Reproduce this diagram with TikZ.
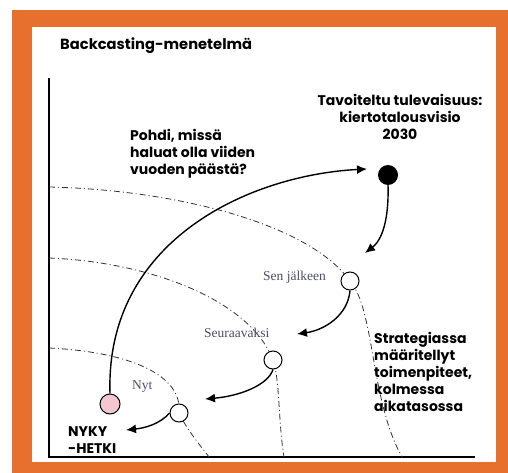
\documentclass[tikz,border=0pt]{standalone}
\usepackage{fontspec}
\setmainfont{Liberation Serif}
\newfontfamily\lblfont{Poppins}
\usetikzlibrary{arrows.meta}
\definecolor{frameorange}{HTML}{E8702F}
\definecolor{labelgray}{HTML}{4E4E64}
\definecolor{pinkfill}{HTML}{F4C7D0}
\begin{document}
\begin{tikzpicture}[x=1pt,y=-1pt,
  boldlbl/.style={font=\lblfont\bfseries\fontsize{14}{17}\selectfont, inner sep=0pt},
  serlbl/.style={font=\fontsize{13.5}{15}\selectfont, text=labelgray, inner sep=0pt},
  stage/.style={circle, draw=black, line width=1pt, fill=white, minimum size=18pt, inner sep=0pt},
  guide/.style={draw=black!80, line width=0.8pt, dash pattern=on 6pt off 3pt on 1pt off 3pt},
  flow/.style={draw=black, line width=1.4pt, -{Latex[length=10pt,width=9pt]}},
  axis/.style={draw=black, line width=1.5pt}
]
\useasboundingbox (0,0) rectangle (508,473);
\fill[frameorange] (12,10) rectangle (508,473);
\fill[white] (32,27) rectangle (496,462);

\node[boldlbl, font=\lblfont\bfseries\fontsize{14.7}{17}\selectfont, anchor=base west] (title) at (60,50) {Backcasting-menetelmä};

% axes
\coordinate (ytop) at (49,78);
\coordinate (origin) at (49,457);
\coordinate (xend) at (475,457);
\draw[axis] (ytop) -- (origin) -- (xend);

% guide curve ends
\coordinate (g1s) at (49,187);
\coordinate (g1e) at (402,457);
\coordinate (g2s) at (49,258);
\coordinate (g2e) at (284,457);
\coordinate (g3s) at (49,348);
\coordinate (g3e) at (209,457);

% stage positions
\coordinate (senc) at (350,281);
\coordinate (seuc) at (273,360);
\coordinate (nytc) at (179,413);

% guide curves
\draw[guide] (g1s) .. controls (180,190) and (310,225) .. (senc) .. controls (375,310) and (370,400) .. (g1e);
\draw[guide] (g2s) .. controls (150,262) and (250,300) .. (seuc) .. controls (280,380) and (278,420) .. (g2e);
\draw[guide] (g3s) .. controls (130,352) and (183,375) .. (nytc) .. controls (187,430) and (200,445) .. (g3e);

% stage circles
\node[stage] (sen) at (senc) {};
\node[stage] (seu) at (seuc) {};
\node[stage] (nyt) at (nytc) {};
\node[circle, draw=black, line width=1pt, fill=pinkfill, minimum size=20pt, inner sep=0pt] (now) at (110,404) {};
\node[circle, fill=black, minimum size=20pt, inner sep=0pt] (goal) at (388,175) {};

% tips
\coordinate (goaltip) at (367,169);
\coordinate (sentip) at (365,253);
\coordinate (seutip) at (297,334);
\coordinate (nyttip) at (205,399);
\coordinate (nowtip) at (126,430);

\draw[flow] (now.north) .. controls (105,240) and (250,175) .. (goaltip);
\draw[flow] (goal.south) .. controls (389,220) and (382,240) .. (sentip);
\draw[flow] (sen.south) .. controls (348,315) and (325,330) .. (seutip);
\draw[flow] (seu.south) .. controls (268,385) and (240,396) .. (nyttip);
\draw[flow] (nyt.west) .. controls (160,424) and (145,428) .. (nowtip);

% labels
\node[boldlbl, align=center, anchor=north] (vision) at (400,94) {Tavoiteltu tulevaisuus:\\kiertotalousvisio\\2030};
\node[boldlbl, align=left, anchor=north west] (think) at (130,129) {Pohdi, missä\\haluat olla viiden\\vuoden päästä?};
\node[boldlbl, align=left, anchor=north west] (strat) at (374,332) {Strategiassa\\määritellyt\\toimenpiteet,\\kolmessa\\aikatasossa};
\node[boldlbl, align=left, anchor=north west] (nyky) at (68,426) {NYKY\\-HETKI};

\node[serlbl, anchor=base east] (senlbl) at (326,280) {Sen jälkeen};
\node[serlbl, anchor=base west] (seulbl) at (204,337) {Seuraavaksi};
\node[serlbl, anchor=base west] (nytlbl) at (132,389) {Nyt};
\end{tikzpicture}
\end{document}
